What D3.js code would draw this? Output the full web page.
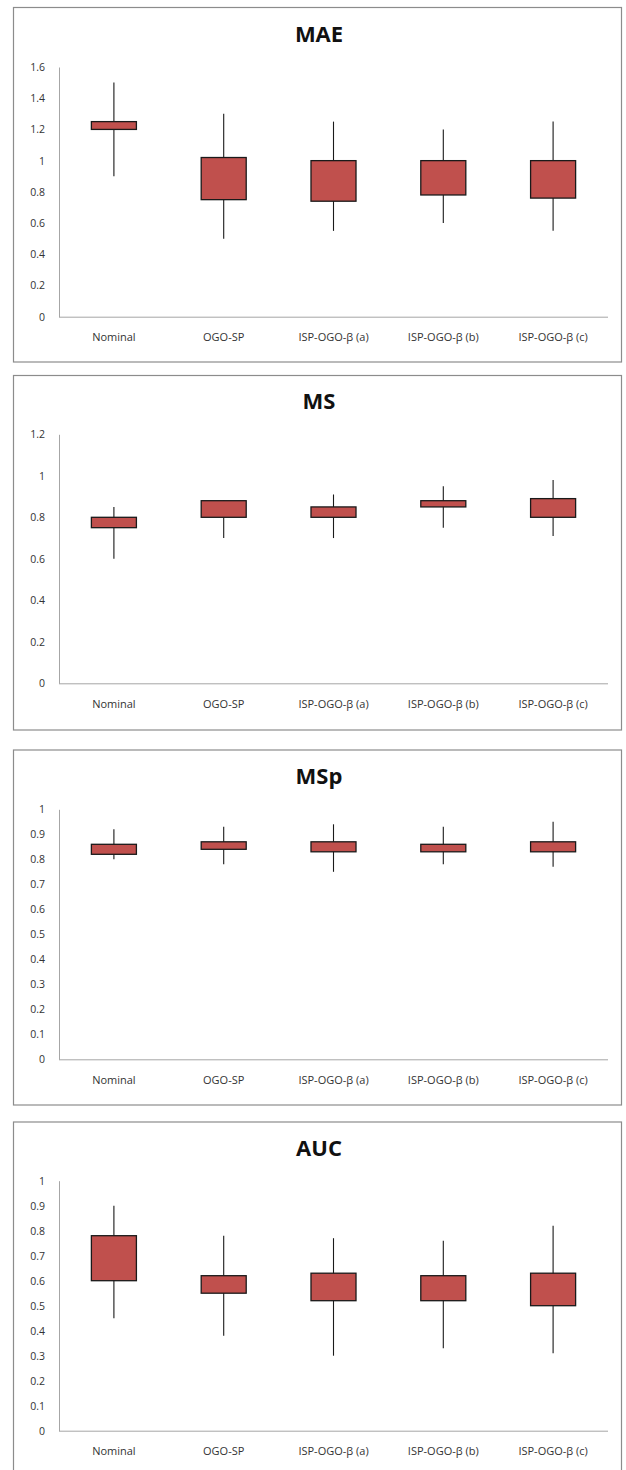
<!DOCTYPE html>
<html>
<head>
<meta charset="utf-8">
<script src="https://cdn.jsdelivr.net/npm/d3@7"></script>
<style>
  html, body { margin: 0; padding: 0; background: #fff; }
  svg { display: block; }
</style>
</head>
<body>
<svg id="chart" width="626" height="1470"></svg>
<script>
// Methods compared on every metric
const categories = ["Nominal", "OGO-SP", "ISP-OGO-β (a)", "ISP-OGO-β (b)", "ISP-OGO-β (c)"];

// MAE: whisker low, box bottom, box top, whisker high
const maeLow  = [0.90, 0.50, 0.55, 0.60, 0.55];
const maeQ1   = [1.20, 0.75, 0.74, 0.78, 0.76];
const maeQ3   = [1.25, 1.02, 1.00, 1.00, 1.00];
const maeHigh = [1.50, 1.30, 1.25, 1.20, 1.25];
const maeTicks = [0, 0.2, 0.4, 0.6, 0.8, 1, 1.2, 1.4, 1.6];

// MS
const msLow  = [0.60, 0.70, 0.70, 0.75, 0.71];
const msQ1   = [0.75, 0.80, 0.80, 0.85, 0.80];
const msQ3   = [0.80, 0.88, 0.85, 0.88, 0.89];
const msHigh = [0.85, 0.88, 0.91, 0.95, 0.98];
const msTicks = [0, 0.2, 0.4, 0.6, 0.8, 1, 1.2];

// MSp
const mspLow  = [0.80, 0.78, 0.75, 0.78, 0.77];
const mspQ1   = [0.82, 0.84, 0.83, 0.83, 0.83];
const mspQ3   = [0.86, 0.87, 0.87, 0.86, 0.87];
const mspHigh = [0.92, 0.93, 0.94, 0.93, 0.95];
const mspTicks = [0, 0.1, 0.2, 0.3, 0.4, 0.5, 0.6, 0.7, 0.8, 0.9, 1];

// AUC
const aucLow  = [0.45, 0.38, 0.30, 0.33, 0.31];
const aucQ1   = [0.60, 0.55, 0.52, 0.52, 0.50];
const aucQ3   = [0.78, 0.62, 0.63, 0.62, 0.63];
const aucHigh = [0.90, 0.78, 0.77, 0.76, 0.82];
const aucTicks = [0, 0.1, 0.2, 0.3, 0.4, 0.5, 0.6, 0.7, 0.8, 0.9, 1];

const panels = [
  { title: "MAE", low: maeLow, q1: maeQ1, q3: maeQ3, high: maeHigh, ticks: maeTicks,
    frameTop: 7.5, frameBottom: 362, plotTop: 67, plotBottom: 316.7 },
  { title: "MS", low: msLow, q1: msQ1, q3: msQ3, high: msHigh, ticks: msTicks,
    frameTop: 375.5, frameBottom: 730, plotTop: 434.3, plotBottom: 683.3 },
  { title: "MSp", low: mspLow, q1: mspQ1, q3: mspQ3, high: mspHigh, ticks: mspTicks,
    frameTop: 750, frameBottom: 1105, plotTop: 809.3, plotBottom: 1059.3 },
  { title: "AUC", low: aucLow, q1: aucQ1, q3: aucQ3, high: aucHigh, ticks: aucTicks,
    frameTop: 1122, frameBottom: 1480, plotTop: 1180.7, plotBottom: 1430.7 }
];

const svg = d3.select("#chart");
const frameLeft = 13.5, frameRight = 621.5;
const plotLeft = 59, plotRight = 608;
const font = "'Open Sans', 'Liberation Sans', sans-serif";

const x = d3.scaleBand().domain(categories).range([plotLeft, plotRight]).paddingInner(0).paddingOuter(0);
const boxW = x.bandwidth() * 0.41;

panels.forEach(p => {
  const g = svg.append("g");

  // panel frame
  g.append("rect")
    .attr("x", frameLeft).attr("y", p.frameTop)
    .attr("width", frameRight - frameLeft).attr("height", p.frameBottom - p.frameTop)
    .attr("fill", "#fff").attr("stroke", "#8c8c8c").attr("stroke-width", 1.2);

  // title
  g.append("text")
    .attr("x", 319).attr("y", p.plotTop - 25)
    .attr("text-anchor", "middle")
    .attr("font-family", font)
    .attr("font-weight", "bold").attr("font-size", 22)
    .attr("fill", "#111")
    .text(p.title);

  const y = d3.scaleLinear()
    .domain([0, d3.max(p.ticks)])
    .range([p.plotBottom, p.plotTop]);

  // y axis
  const yAxis = d3.axisLeft(y).tickValues(p.ticks).tickSize(0).tickPadding(14)
    .tickFormat(d => String(+d.toFixed(1)));
  const ya = g.append("g").attr("transform", `translate(${plotLeft},0)`).call(yAxis);
  ya.select(".domain").attr("stroke", "#a6a6a6").attr("stroke-width", 1);
  ya.selectAll("text")
    .attr("font-family", font).attr("font-size", 10.5).attr("fill", "#333");

  // x axis
  const xAxis = d3.axisBottom(x).tickSize(0).tickPadding(17);
  const xa = g.append("g").attr("transform", `translate(0,${p.plotBottom})`).call(xAxis);
  xa.select(".domain").attr("stroke", "#a6a6a6").attr("stroke-width", 1)
    .attr("d", `M${plotLeft},0.5H${plotRight}`);
  xa.selectAll("text")
    .attr("font-family", font).attr("font-size", 11).attr("fill", "#333");

  // whiskers
  g.append("g").selectAll("line")
    .data(categories)
    .join("line")
    .attr("x1", d => x(d) + x.bandwidth() / 2)
    .attr("x2", d => x(d) + x.bandwidth() / 2)
    .attr("y1", (d, i) => y(p.low[i]))
    .attr("y2", (d, i) => y(p.high[i]))
    .attr("stroke", "#1a1a1a").attr("stroke-width", 1.1);

  // boxes
  g.append("g").selectAll("rect")
    .data(categories)
    .join("rect")
    .attr("x", d => x(d) + x.bandwidth() / 2 - boxW / 2)
    .attr("width", boxW)
    .attr("y", (d, i) => y(p.q3[i]))
    .attr("height", (d, i) => y(p.q1[i]) - y(p.q3[i]))
    .attr("fill", "#c0504d")
    .attr("stroke", "#1a1a1a").attr("stroke-width", 1.3);
});
</script>
</body>
</html>
